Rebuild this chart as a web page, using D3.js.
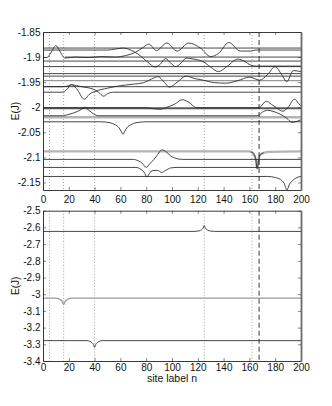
<!DOCTYPE html>
<html>
<head>
<meta charset="utf-8">
<script src="https://cdn.jsdelivr.net/npm/d3@7"></script>
<style>
body { margin: 0; background: #fff; }
svg { display: block; font-family: "Liberation Sans", Arial, sans-serif; }
</style>
</head>
<body>
<div id="chart"></div>
<script>
// ---- data ----
var nTicks = [0, 20, 40, 60, 80, 100, 120, 140, 160, 180, 200];
var nTickLabels = ["0", "20", "40", "60", "80", "100", "120", "140", "160", "180", "200"];
var topTicks = [-1.85, -1.9, -1.95, -2, -2.05, -2.1, -2.15];
var topTickLabels = ["-1.85", "-1.9", "-1.95", "-2", "-2.05", "-2.1", "-2.15"];
var botTicks = [-2.5, -2.6, -2.7, -2.8, -2.9, -3, -3.1, -3.2, -3.3, -3.4];
var botTickLabels = ["-2.5", "-2.6", "-2.7", "-2.8", "-2.9", "-3", "-3.1", "-3.2", "-3.3", "-3.4"];

// dotted sites and the dashed one
var markedSites = [5, 16, 40, 125, 162];
var dashedSite = [167.5];

// top panel levels, [n, E]
var lvl1882 = [[0, -1.882], [200, -1.882]];
var lvl1900 = [[17, -1.900], [200, -1.900]];
var lvl1908 = [[0, -1.908], [200, -1.908]];
var lvl1919 = [[0, -1.919], [200, -1.919]];
var lvl1933 = [[0, -1.933], [200, -1.933]];
var lvl1938 = [[0, -1.938], [200, -1.938]];
var lvl1947 = [[0, -1.947], [200, -1.947]];
var lvl1959 = [[0, -1.959], [200, -1.959]];
var lvl2002 = [[0, -2.002], [200, -2.002]];
var lvl2020 = [[0, -2.020], [200, -2.020]];

var waveA = [[0, -1.900], [3, -1.901], [6, -1.892], [10, -1.877], [13, -1.888], [17, -1.902], [25, -1.900],
  [35, -1.901], [45, -1.899], [56, -1.900], [64, -1.897], [72, -1.890], [78, -1.880], [82, -1.874],
  [88, -1.887], [96, -1.872], [104, -1.888], [113, -1.872], [122, -1.882], [130, -1.899], [136, -1.893],
  [144, -1.871], [153, -1.888], [161, -1.888], [165, -1.886], [200, -1.886]];
var waveB = [[0, -1.886], [50, -1.886], [56, -1.884], [62, -1.882], [68, -1.886], [73, -1.893], [78, -1.903],
  [83, -1.914], [87, -1.920], [91, -1.914], [95, -1.903], [99, -1.912], [103, -1.919], [107, -1.912],
  [111, -1.902], [117, -1.904], [124, -1.909], [130, -1.920], [136, -1.929], [143, -1.918], [151, -1.904],
  [156, -1.908], [161, -1.916], [165, -1.918], [200, -1.918]];
var waveC = [[0, -1.970], [15, -1.970], [18, -1.966], [22, -1.955], [26, -1.963], [32, -1.984], [36, -1.974],
  [41, -1.968], [50, -1.962], [60, -1.957], [70, -1.954], [78, -1.951], [84, -1.944], [89, -1.939],
  [94, -1.950], [98, -1.960], [104, -1.950], [111, -1.938], [118, -1.943], [124, -1.946], [133, -1.951],
  [142, -1.952], [151, -1.947], [160, -1.940], [168, -1.946], [174, -1.935], [180, -1.919], [185, -1.935],
  [189, -1.949], [194, -1.927], [200, -1.929]];
var waveD = [[0, -1.959], [15, -1.959], [20, -1.957], [22, -1.955], [26, -1.957], [32, -1.960], [38, -1.963],
  [43, -1.970], [47, -1.978], [50, -1.973], [55, -1.970], [200, -1.970]];
var waveE = [[0, -2.001], [80, -2.001], [86, -2.003], [91, -2.004], [96, -2.000], [102, -1.994], [108, -1.985],
  [113, -1.990], [119, -2.001], [165, -2.001], [168, -2.000], [173, -1.988], [177, -1.994], [181, -2.001],
  [186, -2.008], [190, -2.000], [195, -1.984], [198, -1.992], [200, -1.998]];
var waveF = [[0, -2.017], [15, -2.017], [19, -2.015], [23, -2.012], [27, -2.008], [30, -2.004], [32.5, -2.000],
  [35, -2.005], [38, -2.011], [41, -2.016], [44, -2.017], [164, -2.017], [167, -2.016], [170, -2.010],
  [174, -2.006], [178, -2.008], [184, -2.014], [189, -2.022], [193, -2.030], [197, -2.028], [200, -2.025]];
var dip62 = [[0, -2.029], [45, -2.029], [52, -2.031], [56, -2.035], [59, -2.041], [61, -2.050], [62, -2.054],
  [63, -2.050], [65, -2.041], [68, -2.035], [72, -2.031], [80, -2.029], [200, -2.029]];
var dip166 = [[0, -2.088], [160, -2.088], [163, -2.092], [165, -2.105], [166, -2.122], [167, -2.108],
  [168, -2.096], [171, -2.091], [176, -2.089], [200, -2.088]];
var dip166core = [[161, -2.089], [163, -2.092], [165, -2.105], [166, -2.122], [167, -2.108], [168, -2.096], [171, -2.091]];
var cross80a = [[0, -2.104], [70, -2.104], [74, -2.107], [77, -2.112], [80, -2.120], [83, -2.112], [86, -2.104],
  [89, -2.094], [92, -2.085], [95, -2.088], [99, -2.097], [103, -2.102], [108, -2.104], [200, -2.104]];
var cross80b = [[0, -2.120], [72, -2.120], [76, -2.124], [78.5, -2.130], [80.5, -2.139], [83, -2.130],
  [86, -2.126], [89, -2.126], [92, -2.130], [95, -2.126], [99, -2.121], [104, -2.120], [200, -2.120]];
var dip189 = [[0, -2.138], [174, -2.138], [180, -2.140], [184, -2.144], [187, -2.152], [189, -2.165],
  [191, -2.154], [194, -2.145], [197, -2.140], [200, -2.138]];

// bottom panel levels
var peak125 = [[0, -2.624], [117, -2.624], [120, -2.622], [122, -2.618], [123.5, -2.610], [124.5, -2.598],
  [125, -2.588], [125.5, -2.598], [126.5, -2.610], [128, -2.618], [130, -2.622], [133, -2.624], [200, -2.624]];
var dip16 = [[0, -3.024], [10, -3.024], [12, -3.027], [14, -3.036], [15.2, -3.048], [16, -3.062],
  [16.8, -3.048], [18, -3.036], [20, -3.027], [22, -3.024], [200, -3.024]];
var dip40 = [[0, -3.278], [34, -3.278], [36, -3.281], [38, -3.290], [39.2, -3.302], [40, -3.318],
  [40.8, -3.302], [42, -3.290], [44, -3.281], [46, -3.278], [200, -3.278]];

// ---- layout ----
var svg = d3.select("#chart").append("svg")
  .attr("width", 332)
  .attr("height", 406);

var x = d3.scaleLinear().domain([0, 200]).range([43, 301]);
var yTop = d3.scaleLinear().domain([-2.165, -1.85]).range([190, 32]);
var yBot = d3.scaleLinear().domain([-3.4, -2.5]).range([361, 210.7]);

function drawPanel(y, id, gray, thickGray, darkThick, black, ticks, tickLabels, xPad) {
  var top = y.range()[1], bottom = y.range()[0];

  svg.append("clipPath").attr("id", id)
    .append("rect")
    .attr("x", 43).attr("y", top)
    .attr("width", 258).attr("height", bottom - top);

  var g = svg.append("g").attr("clip-path", "url(#" + id + ")");

  // dotted site markers
  g.selectAll(".site").data(markedSites).enter().append("line")
    .attr("x1", d => x(d)).attr("x2", d => x(d))
    .attr("y1", top).attr("y2", bottom)
    .attr("stroke", "#8a8a8a").attr("stroke-width", 0.8)
    .attr("stroke-dasharray", "1,2");

  var line = d3.line()
    .x(d => x(d[0]))
    .y(d => y(d[1]))
    .curve(d3.curveMonotoneX);

  g.selectAll(".thickgray").data(thickGray).enter().append("path")
    .attr("d", line).attr("fill", "none")
    .attr("stroke", "#b4b4b4").attr("stroke-width", 2.4);

  g.selectAll(".darkthick").data(darkThick).enter().append("path")
    .attr("d", line).attr("fill", "none")
    .attr("stroke", "#5a5a5a").attr("stroke-width", 2);

  g.selectAll(".gray").data(gray).enter().append("path")
    .attr("d", line).attr("fill", "none")
    .attr("stroke", "#9a9a9a").attr("stroke-width", 1.3);

  g.selectAll(".black").data(black).enter().append("path")
    .attr("d", line).attr("fill", "none")
    .attr("stroke", "#262626").attr("stroke-width", 0.85);

  // dashed marker
  g.selectAll(".dash").data(dashedSite).enter().append("line")
    .attr("x1", d => x(d)).attr("x2", d => x(d))
    .attr("y1", top).attr("y2", bottom)
    .attr("stroke", "#222").attr("stroke-width", 0.9)
    .attr("stroke-dasharray", "5,3");

  // axes, ticks pointing inward like matlab
  var ax = svg.append("g").attr("font-size", 8);

  ax.append("g")
    .attr("transform", "translate(0," + bottom + ")")
    .call(d3.axisBottom(x).tickValues(nTicks).tickFormat((d, i) => nTickLabels[i])
      .tickSizeInner(-3).tickSizeOuter(0).tickPadding(xPad));

  ax.append("g")
    .attr("transform", "translate(0," + top + ")")
    .call(d3.axisTop(x).tickValues(nTicks).tickFormat("")
      .tickSizeInner(-3).tickSizeOuter(0));

  ax.append("g")
    .attr("transform", "translate(43,0)")
    .call(d3.axisLeft(y).tickValues(ticks).tickFormat((d, i) => tickLabels[i])
      .tickSizeInner(-3).tickSizeOuter(0).tickPadding(2.5));

  var right = ax.append("g")
    .attr("transform", "translate(301,0)")
    .call(d3.axisRight(y).tickValues(ticks).tickFormat("")
      .tickSizeInner(-3).tickSizeOuter(0));
  right.select(".domain").attr("stroke", "#6a6a6a").attr("stroke-width", 1.8);

  ax.selectAll("text").attr("font-family", "Liberation Sans, Arial, sans-serif").attr("fill", "#111");
  ax.selectAll(".tick line").attr("stroke", "#333").attr("stroke-width", 0.6);
  ax.selectAll(".domain").filter(function () { return this.parentNode !== right.node(); })
    .attr("stroke", "#222").attr("stroke-width", 0.9);

  // y label
  svg.append("text")
    .attr("transform", "translate(19," + ((top + bottom) / 2) + ") rotate(-90)")
    .attr("text-anchor", "middle")
    .attr("font-size", 10)
    .attr("fill", "#111")
    .text("E(J)");
}

drawPanel(yTop, "clipTop",
  [lvl1947],
  [lvl2020, dip166],
  [lvl2002],
  [lvl1882, lvl1900, lvl1908, lvl1919, lvl1933, lvl1938, lvl1959, waveA, waveB, waveC, waveD,
   waveE, waveF, dip62, dip166core, cross80a, cross80b, dip189],
  topTicks, topTickLabels, 6);

drawPanel(yBot, "clipBot",
  [dip16],
  [],
  [],
  [peak125, dip40],
  botTicks, botTickLabels, 3);

svg.append("text")
  .attr("x", 172).attr("y", 382)
  .attr("text-anchor", "middle")
  .attr("font-size", 10.5)
  .attr("fill", "#111")
  .text("site label n");
</script>
</body>
</html>
